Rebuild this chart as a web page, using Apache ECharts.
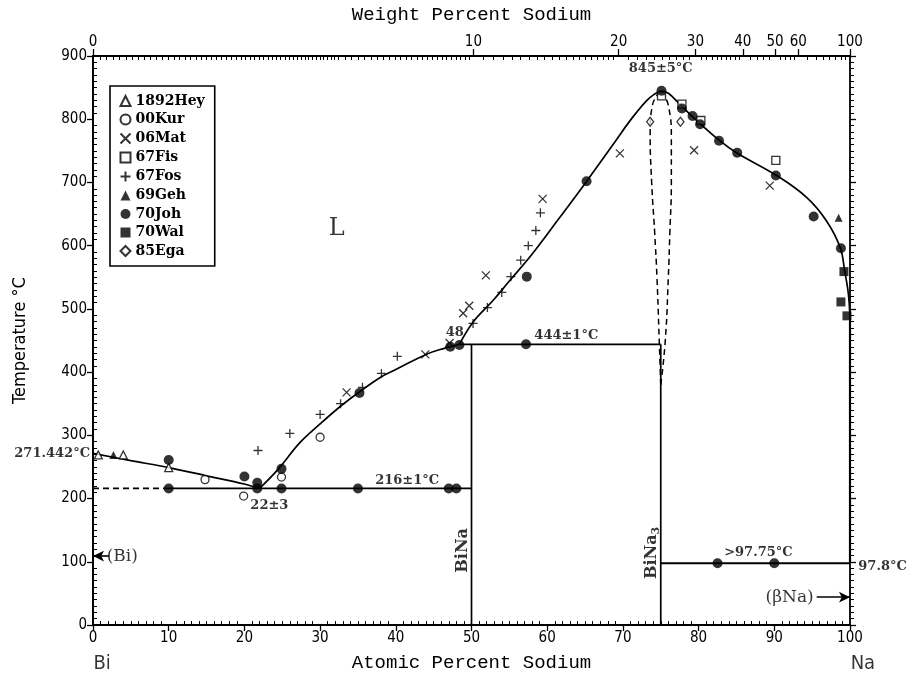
<!DOCTYPE html>
<html>
<head>
<meta charset="utf-8">
<script src="https://cdn.jsdelivr.net/npm/echarts@6/dist/echarts.min.js"></script>
<style>
  html, body { margin: 0; padding: 0; background: #fff; }
  #chart { width: 909px; height: 683px; }
</style>
</head>
<body>
<div id="chart"></div>
<script>
// ---- axes ----
const atomicTicks = [0, 10, 20, 30, 40, 50, 60, 70, 80, 90, 100];
const tempTicks = [0, 100, 200, 300, 400, 500, 600, 700, 800, 900];
const weightTicks = [0, 10, 20, 30, 40, 50, 60, 100];

// ---- measured points (atomic % Na, temperature °C) ----
const hey1892 = [[0.7, 269], [4.0, 269], [10, 249]];
const kur00 = [[14.8, 230], [19.9, 204], [24.9, 234], [30, 297]];
const mat06 = [[33.5, 368], [43.9, 428], [47.1, 446], [48.9, 493], [49.7, 505], [51.9, 553],
               [59.4, 674], [69.6, 746], [79.4, 751], [89.4, 695]];
const fis67 = [[75.1, 837], [77.8, 824], [80.3, 798], [90.2, 735]];
const fos67 = [[21.8, 276], [26, 303], [30, 333], [32.7, 350], [35.6, 376], [38.1, 398], [40.2, 425],
               [50.2, 477], [52.1, 502], [54, 526], [55.2, 551], [56.5, 577], [57.5, 600], [58.5, 624], [59.1, 652]];
const geh69 = [[2.7, 269], [98.5, 644]];
const joh70 = [[10, 261], [10, 216], [20, 235], [21.7, 225], [21.7, 216], [24.9, 247], [24.9, 216],
               [35.2, 367], [35, 216], [47, 216], [48, 216], [47.2, 440], [48.4, 443], [57.2, 444],
               [57.3, 551], [65.2, 702], [75.1, 845], [77.8, 817], [79.2, 805], [80.2, 792], [82.7, 766],
               [85.1, 747], [90.2, 711], [95.2, 646], [98.8, 596], [82.5, 97.8], [90, 97.8]];
const wal70 = [[99.2, 559], [98.8, 511], [99.6, 489]];
const ega85 = [[73.6, 796], [77.6, 796]];

// ---- phase boundaries ----
const liquidusBi = [[0, 271.442], [5, 260], [10, 249], [15, 236], [20, 223], [22, 216]];
const liquidusEut = [[22, 216], [24.5, 247], [27.3, 288], [30, 318], [32.7, 346], [35, 367], [38, 392],
                     [40, 404], [44, 428], [46.5, 438], [48.4, 444]];
const liquidusBiNa3 = [[48.4, 444], [50.2, 479], [52.9, 514], [55, 544], [58.1, 588], [61.5, 642],
                       [65.1, 700], [68.7, 760], [70.9, 797], [73.1, 829], [74.2, 840], [75, 845]];
const liquidusNa = [[75, 845], [76, 841], [77.5, 824], [79.3, 803], [82.8, 766], [85, 747], [90.3, 711],
                    [94.3, 676], [96.9, 639], [98.7, 597], [99.3, 560], [99.8, 522], [100, 480]];
const liquidusNaEdge = [[100, 480], [100, 97.8]];
const lensLeft = [[75, 380], [74.8, 450], [74.5, 550], [74.2, 620], [73.8, 700], [73.6, 780], [73.9, 822], [75, 845]];
const lensRight = [[75, 380], [75.6, 450], [76, 550], [76.2, 620], [76.4, 700], [76.4, 770], [76, 822], [75, 845]];
const eutecticDashed = [[0, 216], [10, 216]];
const eutecticSolid = [[10, 216], [50, 216]];
const peritectic = [[48.4, 444], [75, 444]];
const biNaLine = [[50, 0], [50, 444]];
const biNa3Line = [[75, 0], [75, 444]];
const naEutectic = [[75, 97.8], [100, 97.8]];

// ---- arrows marking terminal solid solutions ----
const biArrow = [[2.1, 109], [0, 109]];
const naArrow = [[95.6, 44], [100, 44]];

// ---- annotation text with anchor (atomic %, °C) ----
const noteTexts = ['L', '845±5°C', '48', '444±1°C', '216±1°C', '22±3', '>97.75°C', '(Bi)', '(βNa)',
                   'BiNa', 'BiNa3', '271.442°C', '97.8°C', 'Bi', 'Na'];
const noteAnchors = [[32.2, 627], [75, 870], [47.8, 463], [58.3, 458], [41.5, 229], [23.3, 189], [87.9, 114],
                     [1.8, 109], [95.2, 44], [48.9, 118], [73.8, 114], [-0.4, 271.442], [101.1, 93], [1.2, -61], [101.7, -61]];

// weight % Na -> atomic % Na
const M_NA = 22.99, M_BI = 208.98;
function wtToAt(w) {
  if (w >= 100) return 100;
  const a = w / M_NA, b = (100 - w) / M_BI;
  return 100 * a / (a + b);
}
const weightTickPos = weightTicks.map(wtToAt);

// minor tick positions
const weightMinorPos = [];
(function () {
  const steps = [[0, 5, 0.1], [5, 10, 0.2], [10, 20, 0.5], [20, 40, 1], [40, 60, 2], [60, 100, 5]];
  steps.forEach(([a, b, s]) => {
    for (let k = 0; a + k * s < b - 1e-9; k++) {
      const w = +(a + k * s).toFixed(3);
      if (weightTicks.indexOf(w) < 0) weightMinorPos.push(wtToAt(w));
    }
  });
})();
const atomicMinorPos = [];
for (let i = 1; i < 100; i++) if (i % 10) atomicMinorPos.push(i);
const tempMinorPos = [];
for (let t = 10; t < 900; t += 10) if (t % 100) tempMinorPos.push(t);

const serif = "'DejaVu Serif', 'Liberation Serif', serif";
const mono = "'Liberation Mono', 'DejaVu Sans Mono', monospace";
const narrow = "'Liberation Sans Narrow', 'DejaVu Sans Condensed', 'Liberation Sans', sans-serif";

const PLUS = 'path://M5,0L5,10M0,5L10,5';
const CROSS = 'path://M0,0L10,10M10,0L0,10';

function pts(name, data, symbol, size, filled) {
  return {
    type: 'scatter', name, data, symbol, symbolSize: size, z: 5,
    itemStyle: filled
      ? { color: '#000', borderColor: '#000', borderWidth: 0 }
      : { color: symbol.startsWith('path') ? 'none' : '#fff', borderColor: '#000', borderWidth: 1.3 },
    emphasis: { disabled: true }
  };
}

function curve(data, opts) {
  opts = opts || {};
  return {
    type: 'line', data, symbol: 'none', smooth: opts.smooth || false, z: 3,
    lineStyle: { color: '#000', width: opts.width || 1.7, type: opts.dashed ? [6, 4] : 'solid' },
    emphasis: { disabled: true }, silent: true
  };
}

function arrow(data) {
  return {
    type: 'line', data: [], symbol: 'none', silent: true,
    markLine: {
      silent: true, symbol: ['none', 'arrow'], symbolSize: [8, 11], label: { show: false },
      lineStyle: { color: '#000', width: 1.6, type: 'solid' },
      data: [[{ coord: data[0] }, { coord: data[1] }]]
    }
  };
}

// per-note text style
const noteStyle = {
  'L': { fontFamily: serif, fontSize: 24, fontWeight: 'normal' },
  '845±5°C': { align: 'center', verticalAlign: 'bottom' },
  '48': { align: 'center' },
  '444±1°C': { align: 'left' },
  '216±1°C': { align: 'center' },
  '22±3': { align: 'center' },
  '>97.75°C': { align: 'center' },
  '(Bi)': { align: 'left', fontWeight: 'normal', fontSize: 17 },
  '(βNa)': { align: 'right', fontWeight: 'normal', fontSize: 17 },
  'BiNa': { rotate: 90, align: 'center', fontSize: 16 },
  'BiNa3': { rotate: 90, align: 'center', formatter: '{m|BiNa}{s|3}',
             rich: { m: { fontFamily: serif, fontWeight: 'bold', fontSize: 16 },
                     s: { fontFamily: serif, fontWeight: 'bold', fontSize: 11, verticalAlign: 'bottom', padding: [9, 0, 0, 0] } } },
  '271.442°C': { align: 'right', fontSize: 13 },
  '97.8°C': { align: 'left', fontSize: 13 },
  'Bi': { fontFamily: narrow, fontWeight: 'normal', fontSize: 20 },
  'Na': { fontFamily: narrow, fontWeight: 'normal', fontSize: 20 }
};

const notesSeries = {
  type: 'scatter', symbolSize: 0, clip: false, silent: true, z: 6,
  data: noteTexts.map((t, i) => ({
    value: noteAnchors[i],
    label: Object.assign({
      show: true, position: 'inside', formatter: t, color: '#000',
      fontFamily: serif, fontWeight: 'bold', fontSize: 13, align: 'center', verticalAlign: 'middle'
    }, noteStyle[t] || {})
  }))
};

const chart = echarts.init(document.getElementById('chart'), null, { renderer: 'canvas' });
const axisLineStyle = { color: '#000', width: 1.8 };
const majorTick = { show: true, length: 6, lineStyle: { color: '#000', width: 1.3 } };
const labelStyle = { color: '#000', fontFamily: narrow, fontSize: 15, margin: 6 };

// axis that draws inward-pointing minor ticks over the main axis line
function minorAxis(position, max, values) {
  return {
    type: 'value', position, min: 0, max, gridIndex: 0,
    axisLine: { show: true, onZero: false, lineStyle: axisLineStyle },
    axisTick: { show: true, inside: true, length: 4, customValues: values, lineStyle: { color: '#000', width: 1 } },
    axisLabel: { show: false }, splitLine: { show: false }
  };
}

chart.setOption({
  backgroundColor: '#fff',
  animation: false,
  grid: { left: 93, right: 59, top: 55, bottom: 58, containLabel: false },
  legend: {
    orient: 'vertical', left: 110, top: 86, padding: [8, 10, 8, 8], itemGap: 4.5,
    itemWidth: 10, itemHeight: 10, borderColor: '#000', borderWidth: 1.6, backgroundColor: '#fff',
    selectedMode: false, z: 10,
    data: ['1892Hey', '00Kur', '06Mat', '67Fis', '67Fos', '69Geh', '70Joh', '70Wal', '85Ega'],
    textStyle: { fontFamily: serif, fontWeight: 'bold', fontSize: 14, color: '#000' }
  },
  xAxis: [
    {
      type: 'value', position: 'bottom', min: 0, max: 100, interval: 10,
      name: 'Atomic Percent Sodium', nameLocation: 'middle', nameGap: 28,
      nameTextStyle: { fontFamily: mono, fontSize: 19, color: '#000' },
      axisLine: { onZero: false, lineStyle: axisLineStyle },
      axisTick: majorTick,
      axisLabel: Object.assign({ customValues: atomicTicks }, labelStyle),
      splitLine: { show: false }
    },
    {
      type: 'value', position: 'top', min: 0, max: 100,
      name: 'Weight Percent Sodium', nameLocation: 'middle', nameGap: 32,
      nameTextStyle: { fontFamily: mono, fontSize: 19, color: '#000' },
      axisLine: { onZero: false, lineStyle: axisLineStyle },
      axisTick: Object.assign({ customValues: weightTickPos }, majorTick, { length: 7 }),
      axisLabel: Object.assign({ customValues: weightTickPos,
                   formatter: v => { const i = weightTickPos.findIndex(p => Math.abs(p - v) < 1e-6); return i >= 0 ? String(weightTicks[i]) : ''; } }, labelStyle),
      splitLine: { show: false }
    },
    minorAxis('bottom', 100, atomicMinorPos),
    minorAxis('top', 100, weightMinorPos)
  ],
  yAxis: [
    {
      type: 'value', position: 'left', min: 0, max: 900, interval: 100,
      name: 'Temperature °C', nameLocation: 'middle', nameGap: 64,
      nameTextStyle: { fontFamily: narrow, fontSize: 18, color: '#000' },
      axisLine: { show: true, onZero: false, lineStyle: axisLineStyle },
      axisTick: majorTick,
      axisLabel: Object.assign({ customValues: tempTicks }, labelStyle),
      splitLine: { show: false }
    },
    {
      type: 'value', position: 'right', min: 0, max: 900, interval: 100,
      axisLine: { show: true, onZero: false, lineStyle: axisLineStyle },
      axisTick: majorTick,
      minorTick: { show: true, splitNumber: 10, length: 4, lineStyle: { color: '#000', width: 1 } },
      axisLabel: { show: false },
      splitLine: { show: false }
    },
    minorAxis('left', 900, tempMinorPos)
  ],
  series: [
    curve(liquidusBi, { smooth: 0.3 }),
    curve(liquidusEut, { smooth: 0.4 }),
    curve(liquidusBiNa3, { smooth: 0.4 }),
    curve(liquidusNa, { smooth: 0.4 }),
    curve(liquidusNaEdge, { width: 2.2 }),
    curve(lensLeft, { smooth: 0.5, dashed: true, width: 1.5 }),
    curve(lensRight, { smooth: 0.5, dashed: true, width: 1.5 }),
    curve(eutecticDashed, { dashed: true }),
    curve(eutecticSolid),
    curve(peritectic),
    curve(biNaLine),
    curve(biNa3Line),
    curve(naEutectic, { width: 2 }),
    arrow(biArrow),
    arrow(naArrow),
    pts('1892Hey', hey1892, 'triangle', 8, false),
    pts('00Kur', kur00, 'circle', 8, false),
    pts('06Mat', mat06, CROSS, 8, false),
    pts('67Fis', fis67, 'rect', 8, false),
    pts('67Fos', fos67, PLUS, 9, false),
    pts('69Geh', geh69, 'triangle', 8, true),
    pts('70Joh', joh70, 'circle', 10, true),
    pts('70Wal', wal70, 'rect', 9, true),
    pts('85Ega', ega85, 'diamond', [7, 9], false),
    notesSeries
  ]
});
</script>
</body>
</html>
